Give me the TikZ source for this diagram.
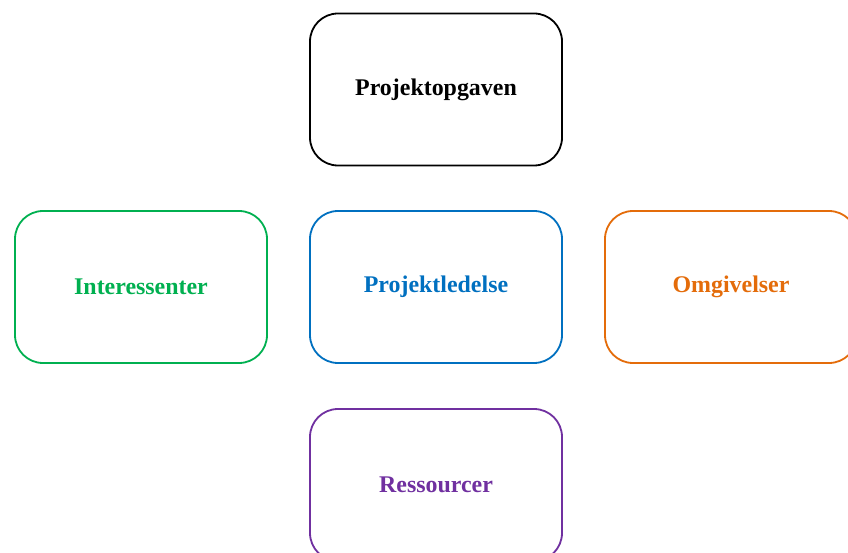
\documentclass[tikz,border=0pt]{standalone}
\usepackage{fontspec}
\setmainfont{Liberation Serif}
\definecolor{cgreen}{HTML}{00B050}
\definecolor{cblue}{HTML}{0070C0}
\definecolor{corange}{HTML}{E46C0A}
\definecolor{cpurple}{HTML}{7030A0}
\tikzset{
  box/.style={rectangle, rounded corners=28bp, minimum width=252bp, minimum height=152bp,
    line width=1.8bp, draw=#1, text=#1, font=\fontsize{24}{28}\selectfont\bfseries, inner sep=0pt},
}
\begin{document}
\begin{tikzpicture}[x=1bp,y=-1bp]
\clip (0,0) rectangle (848,553);
\useasboundingbox (0,0) rectangle (848,553);
\fill[white] (0,0) rectangle (848,553);
\node[box=black] (task) at (436,89.5) {Projektopgaven};
\node[box=cgreen] (stake) at (141,287) {Interessenter};
\node[box=cblue] (lead) at (436,287) {Projektledelse};
\node[box=corange] (env) at (731,287) {Omgivelser};
\node[box=cpurple] (res) at (436,485) {Ressourcer};
\end{tikzpicture}
\end{document}
